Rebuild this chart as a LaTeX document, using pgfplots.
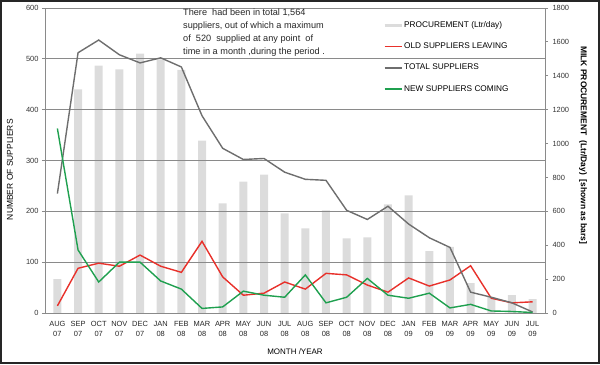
\documentclass[border=0pt]{standalone}
\usepackage{fontspec}
\setmainfont{Liberation Sans}
\usepackage{pgfplots}
\pgfplotsset{compat=1.18}
\definecolor{barc}{HTML}{DCDCDC}
\definecolor{redc}{HTML}{E8312B}
\definecolor{grayc}{HTML}{6E6E6E}
\definecolor{greenc}{HTML}{1FA04F}
\definecolor{gridc}{HTML}{8A8A8A}
\definecolor{axc}{HTML}{8A8A8A}
\begin{document}
\begin{tikzpicture}[x=1bp,y=1bp]
\useasboundingbox (-45,-51) rectangle (555,313);
\draw[line width=2bp, color=black!85] (-44,-50) rectangle (554,312);
% bars: milk procurement, right axis
\begin{axis}[at={(0,0)}, anchor=south west, scale only axis,
  width=500bp, height=305bp,
  xmin=-0.6, xmax=23.6, ymin=0, ymax=1800,
  axis y line*=right, axis x line=none,
  axis line style={axc, line width=0.8bp},
  ytick={0,200,...,1800},
  ytick style={axc, line width=0.8bp},
  tick align=outside, major tick length=3bp,
  /pgf/number format/1000 sep={},
  /pgf/number format/assume math mode=true,
  yticklabel style={font=\fontsize{7.5}{9}\selectfont, color=black!80, xshift=1bp},
  ylabel={MILK PROCUREMENT\ \ (Ltr/Day)\ \ [shown as bars]},
  ylabel style={at={(axis description cs:1.076,0.55)}, rotate=180, anchor=center,
    font=\fontsize{8.5}{10}\selectfont\bfseries},
  bar width=8bp,
]
\addplot[ybar, fill=barc, draw=none] coordinates {
(0,200) (1,1320) (2,1460) (3,1438) (4,1530) (5,1497) (6,1435) (7,1017)
(8,647) (9,776) (10,817) (11,588) (12,500) (13,606) (14,441) (15,447)
(16,641) (17,694) (18,365) (19,390) (20,176) (21,94) (22,106) (23,82)};
\end{axis}
% lines: number of suppliers, left axis
\begin{axis}[at={(0,0)}, anchor=south west, scale only axis,
  width=500bp, height=305bp,
  xmin=-0.6, xmax=23.6, ymin=0, ymax=600,
  axis x line*=bottom, axis y line*=left,
  axis line style={axc, line width=0.8bp},
  ytick={0,100,...,600},
  ymajorgrids, grid style={gridc, line width=0.9bp},
  tick align=outside, major tick length=3bp,
  tick style={axc, line width=0.8bp},
  xtick={0,...,23},
  x tick style={draw=none},
  minor xtick={-0.5,0.5,...,23.5},
  minor x tick style={axc, line width=0.8bp},
  minor tick length=4bp,
  xticklabels={{AUG\\07},{SEP\\07},{OCT\\07},{NOV\\07},{DEC\\07},{JAN\\08},{FEB\\08},{MAR\\08},{APR\\08},{MAY\\08},{JUN\\08},{JUL\\08},{AUG\\08},{SEP\\08},{OCT\\08},{NOV\\08},{DEC\\08},{JAN\\09},{FEB\\09},{MAR\\09},{APR\\09},{MAY\\09},{JUN\\09},{JUL\\09}},
  xticklabel style={align=center, font=\fontsize{7.5}{10}\selectfont, color=black!85, yshift=-2bp},
  /pgf/number format/assume math mode=true,
  yticklabel style={font=\fontsize{7.5}{9}\selectfont, color=black!80},
  xlabel={MONTH /YEAR},
  xlabel style={font=\fontsize{8}{10}\selectfont, yshift=-5bp},
  ylabel={NUMBER OF SUPPLIERS},
  ylabel style={at={(axis description cs:-0.07,0.47)}, anchor=center,
    font=\fontsize{8.5}{10}\selectfont},
  legend style={at={(rel axis cs:0.676,0.96)}, anchor=north west, draw=none, fill=none,
    font=\fontsize{8.3}{10}\selectfont, row sep=12bp, inner sep=0pt,
    nodes={inner xsep=1bp, inner ysep=1bp}},
  legend cell align=left,
  legend image code/.code={\draw[#1] (0bp,0bp) -- (17bp,0bp);},
]
\addlegendimage{draw=barc, line width=3bp}
\addlegendentry{PROCUREMENT (Ltr/day)}
\addlegendimage{draw=redc, line width=1.8bp}
\addlegendentry{OLD SUPPLIERS LEAVING}
\addlegendimage{draw=grayc, line width=1.8bp}
\addlegendentry{TOTAL SUPPLIERS}
\addlegendimage{draw=greenc, line width=1.8bp}
\addlegendentry{NEW SUPPLIERS COMING}
\addplot[redc, line width=1.4bp, forget plot] coordinates {
(0,14) (1,88) (2,98) (3,92) (4,114) (5,92) (6,80) (7,141)
(8,71) (9,35) (10,39) (11,61) (12,47) (13,78) (14,75) (15,55)
(16,41) (17,69) (18,53) (19,65) (20,93) (21,29) (22,20) (23,22)};
\addplot[grayc, line width=1.4bp, forget plot] coordinates {
(0,235) (1,512) (2,537) (3,508) (4,492) (5,502) (6,484) (7,388)
(8,324) (9,302) (10,304) (11,277) (12,263) (13,261) (14,202) (15,184)
(16,210) (17,175) (18,148) (19,129) (20,41) (21,31) (22,20) (23,2)};
\addplot[greenc, line width=1.4bp, forget plot] coordinates {
(0,363) (1,124) (2,61) (3,100) (4,100) (5,63) (6,47) (7,9)
(8,12) (9,43) (10,35) (11,31) (12,75) (13,20) (14,31) (15,68)
(16,35) (17,29) (18,39) (19,10) (20,17) (21,4) (22,3) (23,1)};
\node[anchor=north west, align=left, inner sep=0pt, font=\fontsize{9.2}{13}\selectfont, color=black!85]
  at (rel axis cs:0.276,0.997)
  {There\ \ had been in total 1,564\\suppliers, out of which a maximum\\of\ \ 520\ \ supplied at any point\ \ of\\time in a month ,during the period .};
\end{axis}
\end{tikzpicture}
\end{document}
